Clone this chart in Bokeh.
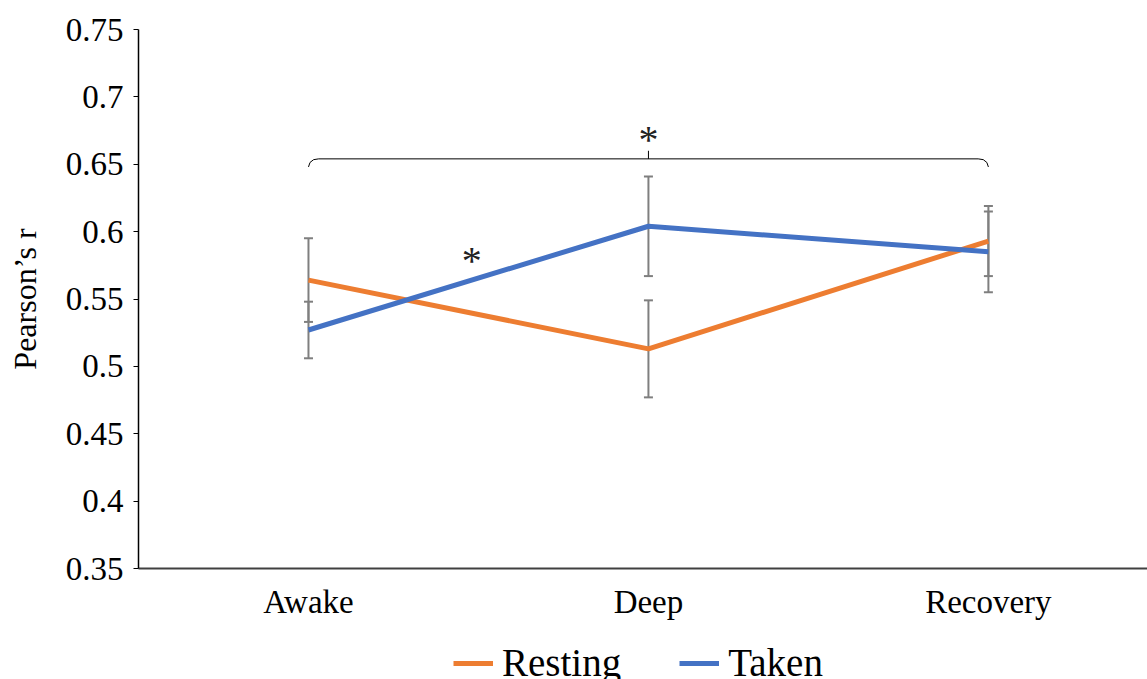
from bokeh.plotting import figure
from bokeh.layouts import column
from bokeh.models import (ColumnDataSource, FixedTicker, Legend, LegendItem,
                          Whisker, TeeHead, Range1d)
from bokeh.core.properties import value
from bokeh.embed import file_html
from bokeh.resources import INLINE

categories = ["Awake", "Deep", "Recovery"]
resting = [0.564, 0.513, 0.593]
resting_err = [0.031, 0.036, 0.026]
taken = [0.527, 0.604, 0.585]
taken_err = [0.021, 0.037, 0.030]
y_ticks = [0.35, 0.4, 0.45, 0.5, 0.55, 0.6, 0.65, 0.7, 0.75]
y_tick_labels = ["0.35", "0.4", "0.45", "0.5", "0.55", "0.6", "0.65", "0.7", "0.75"]
series_names = ["Resting", "Taken"]
bracket_y = 0.654
star_pair = (0.48, 0.585)   # Awake-Deep asterisk position
star_bracket_y = 0.675

FONT = "'Liberation Serif', 'Times New Roman', 'DejaVu Serif', serif"
ORANGE = "#ED7D31"
BLUE = "#4472C4"
GRAY = "#7F7F7F"

xs = list(range(len(categories)))

p = figure(width=1147, height=640, output_backend="svg", toolbar_location=None,
           x_range=Range1d(-0.5, 2.468), y_range=Range1d(0.35, 0.75),
           min_border_left=138, min_border_top=29, min_border_bottom=72,
           min_border_right=0, outline_line_color=None)
p.grid.visible = False

# axes
p.xaxis.ticker = FixedTicker(ticks=xs)
p.xaxis.major_label_overrides = {i: c for i, c in enumerate(categories)}
p.xaxis.major_tick_line_color = None
p.xaxis.minor_tick_line_color = None
p.xaxis.axis_line_color = "#404040"
p.xaxis.axis_line_width = 2
p.xaxis.major_label_text_font = FONT
p.xaxis.major_label_text_font_size = "33px"
p.xaxis.major_label_text_color = "black"
p.xaxis.major_label_standoff = 9

p.yaxis.ticker = FixedTicker(ticks=y_ticks)
p.yaxis.major_label_overrides = {t: l for t, l in zip(y_ticks, y_tick_labels)}
p.yaxis.minor_tick_line_color = None
p.yaxis.major_tick_in = 0
p.yaxis.major_tick_out = 5
p.yaxis.major_tick_line_color = "black"
p.yaxis.axis_line_color = "black"
p.yaxis.axis_line_width = 1.5
p.yaxis.major_label_text_font = FONT
p.yaxis.major_label_text_font_size = "33px"
p.yaxis.major_label_text_color = "black"
p.yaxis.major_label_standoff = 10
p.yaxis.axis_label = "Pearson’s r"
p.yaxis.axis_label_text_font = FONT
p.yaxis.axis_label_text_font_size = "32px"
p.yaxis.axis_label_text_font_style = "normal"
p.yaxis.axis_label_text_color = "black"
p.yaxis.axis_label_standoff = 20

src = ColumnDataSource(dict(
    x=xs, resting=resting, taken=taken,
    r_lo=[v - e for v, e in zip(resting, resting_err)],
    r_hi=[v + e for v, e in zip(resting, resting_err)],
    t_lo=[v - e for v, e in zip(taken, taken_err)],
    t_hi=[v + e for v, e in zip(taken, taken_err)],
))

r1 = p.line("x", "resting", source=src, line_color=ORANGE, line_width=5)
r2 = p.line("x", "taken", source=src, line_color=BLUE, line_width=5)

for lo, hi in (("r_lo", "r_hi"), ("t_lo", "t_hi")):
    w = Whisker(source=src, base="x", lower=lo, upper=hi,
                line_color=GRAY, line_width=2,
                upper_head=TeeHead(size=9, line_color=GRAY, line_width=2),
                lower_head=TeeHead(size=9, line_color=GRAY, line_width=2))
    p.add_layout(w)

# significance bracket across all conditions
x0, x1 = xs[0], xs[-1]
d = 0.03
dy = 0.006
bx = [x0, x0 + d * 0.15, x0 + d * 0.5, x0 + d, x1 - d, x1 - d * 0.5, x1 - d * 0.15, x1]
by = [bracket_y - dy, bracket_y - dy * 0.45, bracket_y - dy * 0.1, bracket_y,
      bracket_y, bracket_y - dy * 0.1, bracket_y - dy * 0.45, bracket_y - dy]
p.line(bx, by, line_color="black", line_width=1)
mid = (x0 + x1) / 2
p.segment(x0=[mid], y0=[bracket_y], x1=[mid], y1=[bracket_y + 0.006],
          line_color="black", line_width=1)

p.text(x=[mid, star_pair[0]], y=[star_bracket_y, star_pair[1]], text=["*", "*"],
       text_font=value(FONT), text_font_size="40px", text_color="#222222",
       text_align="center", text_baseline="middle", y_offset=9)

# legend strip below the chart
lg = figure(width=1147, height=39, output_backend="svg", toolbar_location=None,
            x_range=Range1d(10, 11), y_range=Range1d(10, 11),
            x_axis_location=None, y_axis_location=None,
            min_border_left=0, min_border_right=0, min_border_top=0,
            min_border_bottom=0, outline_line_color=None)
lg.grid.visible = False
l1 = lg.line(xs, resting, line_color=ORANGE, line_width=5)
l2 = lg.line(xs, taken, line_color=BLUE, line_width=5)
legend = Legend(items=[LegendItem(label=series_names[0], renderers=[l1]),
                       LegendItem(label=series_names[1], renderers=[l2])],
                orientation="horizontal", location=(315, -6),
                label_text_font=FONT, label_text_font_size="39px",
                label_text_color="black", glyph_width=40, glyph_height=30,
                label_height=30, label_standoff=9, spacing=58,
                padding=0, margin=0, border_line_color=None,
                background_fill_alpha=0)
lg.add_layout(legend, "center")

layout = column(p, lg, spacing=0)
open("out.html", "w").write(file_html(layout, INLINE))
